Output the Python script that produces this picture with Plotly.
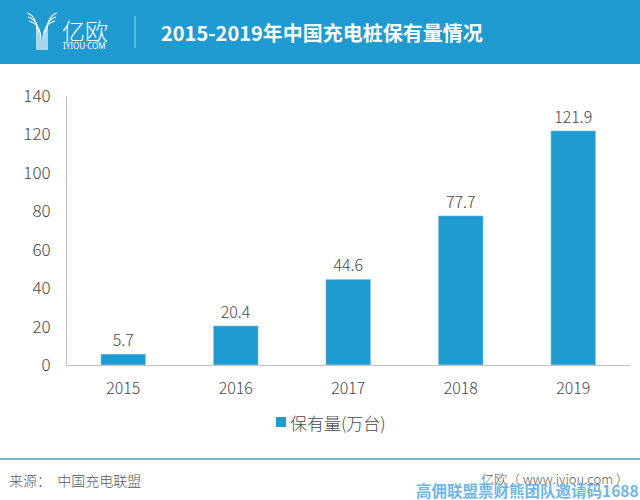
import plotly.graph_objects as go

years = ['2015', '2016', '2017', '2018', '2019']
stock = [5.7, 20.4, 44.6, 77.7, 121.9]
y_ticks = [0, 20, 40, 60, 80, 100, 120, 140]
series_name = '保有量(万台)'

BLUE = '#1f9bd1'
FONT = 'Noto Sans CJK SC'
TEXT = '#484848'
W, H = 640, 500


def px(x):
    return x / W


def py(y):
    return 1 - y / H


fig = go.Figure()
fig.add_trace(go.Bar(x=years, y=stock, name=series_name, marker_color=BLUE, showlegend=False,
                     text=[str(v) for v in stock], textposition='outside', cliponaxis=False,
                     textfont=dict(size=16, color=TEXT, family=FONT, weight=300)))

shapes = []
# header band
shapes.append(dict(type='rect', xref='paper', yref='paper', x0=0, x1=1, y0=py(64), y1=1,
                   fillcolor=BLUE, line_width=0, layer='below'))
# divider next to the logo
shapes.append(dict(type='line', xref='paper', yref='paper', x0=px(135), x1=px(135), y0=py(48), y1=py(16),
                   line=dict(color='#a6d7ee', width=1)))
# footer rule
shapes.append(dict(type='line', xref='paper', yref='paper', x0=0, x1=1, y0=py(459), y1=py(459),
                   line=dict(color='#4a9cc9', width=1.5)))
# legend square
shapes.append(dict(type='rect', xref='paper', yref='paper', x0=px(276), x1=px(286), y0=py(427), y1=py(417),
                   fillcolor=BLUE, line_width=0))


# logo: a rough Y made of curved strokes
def logo_path(x_top, y_top, x_stem):
    return 'M %f %f Q %f %f %f %f L %f %f' % (
        px(x_top), py(y_top), px(x_stem), py(y_top + 3), px(x_stem), py(y_top + 20), px(x_stem), py(50))


for x_top, y_top, x_stem in [(27, 13, 37), (28, 17, 39), (29, 21, 41),
                             (57, 13, 47), (56, 17, 45), (55, 21, 43)]:
    shapes.append(dict(type='path', xref='paper', yref='paper', path=logo_path(x_top, y_top, x_stem),
                       line=dict(color='white', width=1.2)))

annotations = [
    dict(text='亿欧', x=px(60), y=py(30), font=dict(size=23, color='white', family=FONT, weight=300), xanchor='left'),
    dict(text='IYIOU·COM', x=px(61), y=py(46), font=dict(size=8, color='white', family='Noto Sans'), xanchor='left'),
    dict(text='<b>2015-2019年中国充电桩保有量情况</b>', x=px(159), y=py(32),
         font=dict(size=20, color='white', family=FONT), xanchor='left'),
    dict(text=series_name, x=px(288), y=py(422), font=dict(size=17, color=TEXT, family=FONT, weight=300), xanchor='left'),
    dict(text='来源：  中国充电联盟', x=px(7), y=py(480),
         font=dict(size=14, color='#595959', family=FONT, weight=300), xanchor='left'),
    dict(text='亿欧（ www.iyiou.com ）', x=px(479), y=py(478),
         font=dict(size=13, color='#595959', family=FONT, weight=300), xanchor='left'),
    dict(text='<b>高佣联盟票财熊团队邀请码1688</b>', x=px(641), y=py(490),
         font=dict(size=15.5, color='#6fb6e6', family=FONT), xanchor='right'),
]
for a in annotations:
    a.update(xref='paper', yref='paper', showarrow=False, yanchor='middle')

fig.update_layout(
    width=W, height=H, autosize=False,
    margin=dict(l=0, r=0, t=0, b=0),
    paper_bgcolor='white', plot_bgcolor='white',
    bargap=0.6,
    font=dict(family=FONT, color=TEXT),
    shapes=shapes, annotations=annotations,
    showlegend=False,
    xaxis=dict(domain=[px(67), px(629.5)], type='category', automargin=False, showline=True, linecolor='#bfbfbf',
               linewidth=1, ticks='', ticklabelstandoff=9,
               tickfont=dict(size=16, color=TEXT, family=FONT, weight=300)),
    yaxis=dict(domain=[py(365), py(96)], range=[0, 140], automargin=False, tickvals=y_ticks, showline=True,
               linecolor='#bfbfbf', linewidth=1, showgrid=False, zeroline=False, ticks='', ticklabelstandoff=12,
               tickfont=dict(size=17, color=TEXT, family=FONT, weight=300)),
)

fig.write_html('out.html', config={'displayModeBar': False},
               post_script="document.body.style.margin='0';document.documentElement.style.overflow='hidden';")
